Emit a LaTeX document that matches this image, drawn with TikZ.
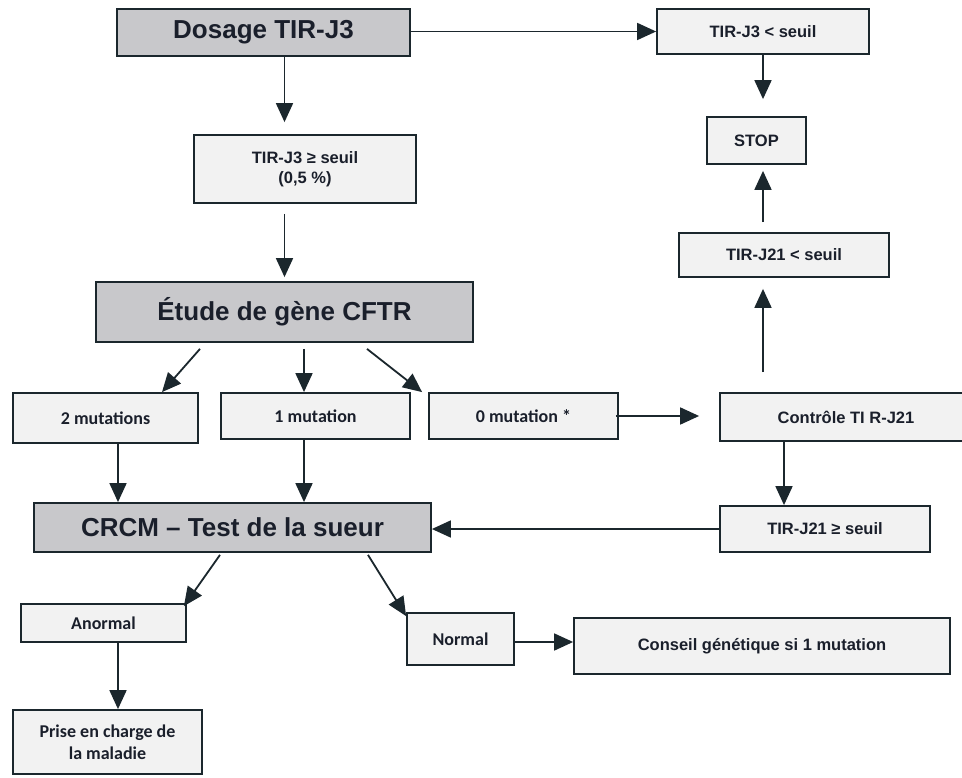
\documentclass[tikz,border=0pt]{standalone}
\usepackage{fontspec}
\setmainfont{Liberation Sans}
\newfontfamily\carlito{Carlito}
\usepackage{tikz}
\usetikzlibrary{arrows.meta,calc}
\definecolor{trait}{HTML}{1B272D}
\definecolor{encre}{HTML}{1A1F2B}
\definecolor{gris}{HTML}{C8C8CB}
\definecolor{clair}{HTML}{F2F2F2}

\begin{document}
\begin{tikzpicture}[x=1pt,y=-1pt,
  boite/.style={draw=trait,line width=1.8pt,fill=clair,inner sep=0pt,align=center,
    text=encre,font=\fontsize{16.5}{20}\selectfont\bfseries},
  titre/.style={boite,fill=gris,font=\fontsize{26}{30}\selectfont\bfseries},
  calib/.style={boite,font=\carlito\fontsize{18}{22}\selectfont\bfseries},
  fleche/.style={draw=trait,line width=1.8pt,-{Triangle[length=19pt,width=17pt]}}]
\useasboundingbox (0,0) rectangle (962,778);
\fill[white] (0,0) rectangle (962,778);
\clip (0,0) rectangle (962,778);

\node[titre,minimum width=293,minimum height=47] (dosage) at (263.5,32.5) {Dosage TIR-J3};
\node[boite,minimum width=212,minimum height=45] (seuilbas) at (763,31.5) {TIR-J3 < seuil};
\node[boite,minimum width=99,minimum height=47] (stop) at (756.5,140.5) {STOP};
\node[boite,minimum width=222,minimum height=68] (seuilhaut) at (305,169) {TIR-J3 ≥ seuil\\(0,5 \%)};
\node[boite,minimum width=210,minimum height=44] (jvingtbas) at (784,255) {TIR-J21 < seuil};
\node[titre,minimum width=377,minimum height=60] (etude) at (284.5,312) {Étude de gène CFTR};
\node[calib,minimum width=185,minimum height=50] (deux) at (105.5,418) {2 mutations};
\node[calib,minimum width=189,minimum height=46] (une) at (315.5,416) {1 mutation};
\node[calib,minimum width=189,minimum height=46] (zero) at (523.5,416) {0 mutation *};
\node[boite,minimum width=252,minimum height=48] (controle) at (846,417) {Contrôle TI R-J21};
\node[titre,minimum width=397,minimum height=49] (crcm) at (232.5,527.5) {CRCM – Test de la sueur};
\node[boite,minimum width=210,minimum height=46] (jvingthaut) at (825,529) {TIR-J21 ≥ seuil};
\node[calib,minimum width=165,minimum height=38] (anormal) at (103.5,623) {Anormal};
\node[calib,minimum width=107,minimum height=52] (normal) at (460.5,639) {Normal};
\node[boite,minimum width=376,minimum height=56] (conseil) at (762,646) {Conseil génétique si 1 mutation};
\node[calib,minimum width=189,minimum height=64] (prise) at (107.5,742) {Prise en charge de\\la maladie};

\draw[fleche] (dosage.east |- seuilbas.west) -- (seuilbas.west);
\draw[fleche,shorten >=12pt] (dosage.south -| etude.north) -- (seuilhaut.north -| etude.north);
\draw[fleche,shorten <=10pt,shorten >=4pt] (seuilhaut.south -| etude.north) -- (etude.north);
\draw[fleche,shorten >=17pt] (seuilbas.south) -- (seuilbas.south |- stop.north);
\draw[fleche,shorten <=10pt,shorten >=6pt] (jvingtbas.north -| seuilbas.south) -- (stop.south -| seuilbas.south);
\draw[fleche,shorten <=20pt,shorten >=11pt] (controle.north -| seuilbas.south) -- (jvingtbas.south -| seuilbas.south);
\draw[fleche,shorten <=-3pt,shorten >=20pt] (zero.east) -- (zero.east -| controle.west);
\draw[fleche] (controle.south -| jvingtbas.south) -- (jvingthaut.north -| jvingtbas.south);
\draw[fleche] (jvingthaut.west) -- (jvingthaut.west -| crcm.east);
\draw[fleche] ($(etude.south)+(-84.5,6)$) -- ($(deux.north)+(56.5,0)$);
\draw[fleche] ($(etude.south)+(19.5,6)$) -- ($(une.north)+(-11.5,0)$);
\draw[fleche] ($(etude.south)+(82.5,6)$) -- ($(zero.north west)+(-6,0)$);
\draw[fleche] ($(deux.south)+(12.5,0)$) -- ($(crcm.north)+(-114.5,0)$);
\draw[fleche] ($(une.south)+(-11.5,0)$) -- ($(crcm.north)+(71.5,0)$);
\draw[fleche] ($(crcm.south)+(-12.5,2)$) -- ($(anormal.north east)+(-3,3)$);
\draw[fleche] ($(crcm.south)+(135.5,2)$) -- ($(normal.north west)+(0,4)$);
\draw[fleche] ($(anormal.south)+(14.5,0)$) -- ($(prise.north)+(10.5,0)$);
\draw[fleche] ($(normal.east)+(0,3)$) -- ($(conseil.west)+(0,-4)$);
\end{tikzpicture}
\end{document}
